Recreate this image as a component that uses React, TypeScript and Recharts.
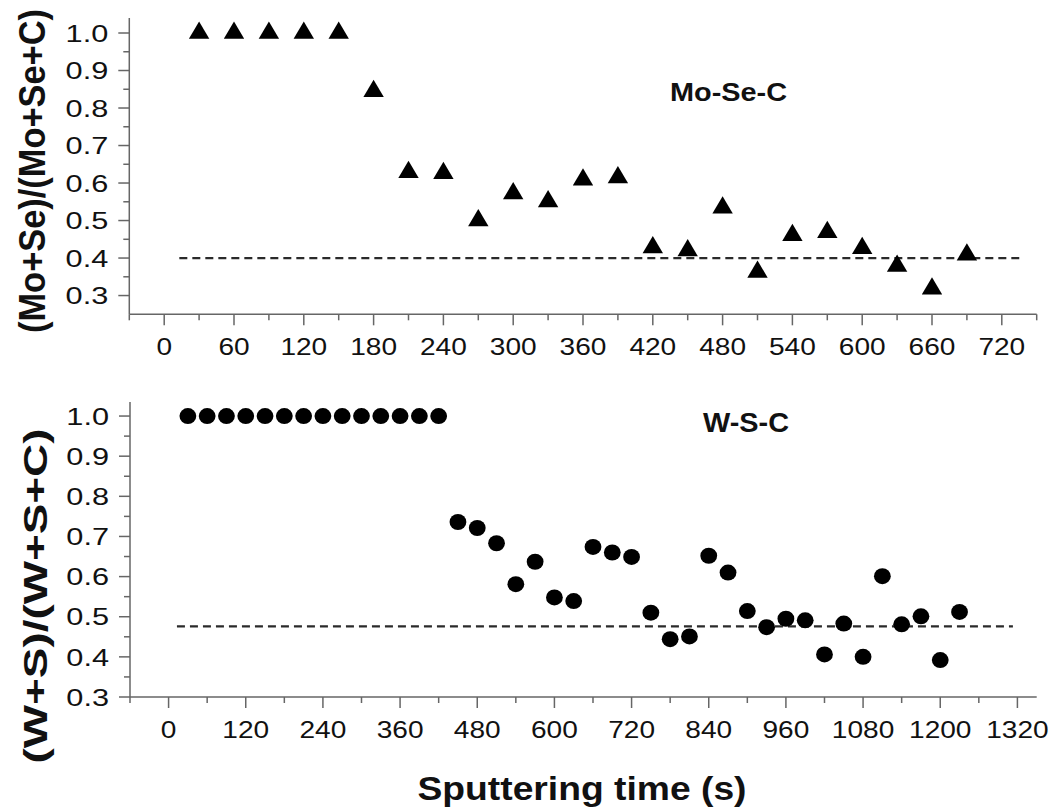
import React from 'react';
import { ScatterChart, Scatter, XAxis, YAxis, ReferenceLine } from 'recharts';

// ---- data ----
const moSeTime = [30, 60, 90, 120, 150, 180, 210, 240, 270, 300, 330, 360, 390, 420, 450, 480, 510, 540, 570, 600, 630, 660, 690];
const moSeRatio = [1.0, 1.0, 1.0, 1.0, 1.0, 0.845, 0.629, 0.626, 0.5, 0.572, 0.551, 0.609, 0.615, 0.428, 0.42, 0.534, 0.363, 0.461, 0.469, 0.426, 0.379, 0.318, 0.409];

const wsTime = [30, 60, 90, 120, 150, 180, 210, 240, 270, 300, 330, 360, 390, 420, 450, 480, 510, 540, 570, 600, 630, 660, 690, 720, 750, 780, 810, 840, 870, 900, 930, 960, 990, 1020, 1050, 1080, 1110, 1140, 1170, 1200, 1230];
const wsRatio = [1.0, 1.0, 1.0, 1.0, 1.0, 1.0, 1.0, 1.0, 1.0, 1.0, 1.0, 1.0, 1.0, 1.0, 0.736, 0.721, 0.683, 0.581, 0.637, 0.548, 0.539, 0.674, 0.66, 0.649, 0.51, 0.444, 0.451, 0.652, 0.61, 0.514, 0.474, 0.495, 0.491, 0.406, 0.483, 0.4, 0.601, 0.481, 0.501, 0.392, 0.512];

const moSeXTicks = [-30, 0, 30, 60, 90, 120, 150, 180, 210, 240, 270, 300, 330, 360, 390, 420, 450, 480, 510, 540, 570, 600, 630, 660, 690, 720, 750];
const wsXTicks = [-60, 0, 60, 120, 180, 240, 300, 360, 420, 480, 540, 600, 660, 720, 780, 840, 900, 960, 1020, 1080, 1140, 1200, 1260, 1320];
const yTicks = [0.3, 0.35, 0.4, 0.45, 0.5, 0.55, 0.6, 0.65, 0.7, 0.75, 0.8, 0.85, 0.9, 0.95, 1.0];

const moSeLevel = 0.4;
const moSeLevelRange = [13, 735];
const wsLevel = 0.476;
const wsLevelRange = [13, 1313];

const moSeData = moSeTime.map((t, i) => ({ x: t, y: moSeRatio[i] }));
const wsData = wsTime.map((t, i) => ({ x: t, y: wsRatio[i] }));

// ---- styles ----
const FONT = '"Liberation Sans", Arial, Helvetica, sans-serif';
const AXIS = '#666';
const INK = '#111';

const makeXTick = (majorStep: number) => (props: any) => {
  const { x, y, payload } = props;
  const v = payload.value as number;
  const major = v >= 0 && v % majorStep === 0;
  return (
    <g>
      <line x1={x} x2={x} y1={y} y2={y + (major ? 11 : 6)} stroke={AXIS} strokeWidth={1.5} />
      {major && (
        <text
          transform={`translate(${x},${y + 41}) scale(1.17,1)`}
          textAnchor="middle"
          fontSize={24}
          fontFamily={FONT}
          fill={INK}
        >
          {v}
        </text>
      )}
    </g>
  );
};

const YTick = (props: any) => {
  const { x, y, payload } = props;
  const v = payload.value as number;
  const major = Math.abs(v * 10 - Math.round(v * 10)) < 1e-6;
  return (
    <g>
      <line x1={x - (major ? 11 : 6)} x2={x} y1={y} y2={y} stroke={AXIS} strokeWidth={1.5} />
      {major && (
        <text
          transform={`translate(${x - 21},${y}) scale(1.28,1)`}
          textAnchor="end"
          dy="0.36em"
          fontSize={24}
          fontFamily={FONT}
          fill={INK}
        >
          {v.toFixed(1)}
        </text>
      )}
    </g>
  );
};

const Triangle = (props: any) => {
  const { cx, cy } = props;
  return (
    <polygon
      points={`${cx},${cy - 11.5} ${cx - 10.2},${cy + 5.8} ${cx + 10.2},${cy + 5.8}`}
      fill="#000"
    />
  );
};

const Dot = (props: any) => {
  const { cx, cy } = props;
  return <ellipse cx={cx} cy={cy} rx={8.4} ry={8} fill="#000" />;
};

const YW = 90;

export default function App() {
  return (
    <div style={{ position: 'absolute', left: 0, top: 0, width: 1055, height: 812, background: '#fff', overflow: 'hidden' }}>
      <div style={{ position: 'absolute', left: 0, top: 0 }}>
        <ScatterChart width={1055} height={370} margin={{ top: 18, right: 18.3, left: 129.3 - YW, bottom: 370 - 314.3 - 40 }}>
          <XAxis
            type="number"
            dataKey="x"
            domain={[-30, 750]}
            allowDataOverflow
            ticks={moSeXTicks}
            interval={0}
            tickSize={0}
            tickMargin={0}
            height={40}
            axisLine={{ stroke: AXIS, strokeWidth: 1.5 }}
            tickLine={false}
            tick={makeXTick(60)}
          />
          <YAxis
            type="number"
            dataKey="y"
            domain={[0.25, 1.04]}
            allowDataOverflow
            ticks={yTicks}
            interval={0}
            tickSize={0}
            tickMargin={0}
            width={YW}
            axisLine={{ stroke: AXIS, strokeWidth: 1.5 }}
            tickLine={false}
            tick={YTick}
          />
          <ReferenceLine
            segment={[{ x: moSeLevelRange[0], y: moSeLevel }, { x: moSeLevelRange[1], y: moSeLevel }]}
            stroke="#2a2a2a"
            strokeWidth={2.2}
            strokeDasharray="8 5"
          />
          <Scatter data={moSeData} shape={Triangle} isAnimationActive={false} />
        </ScatterChart>
      </div>
      <div style={{ position: 'absolute', left: 0, top: 380 }}>
        <ScatterChart width={1055} height={432} margin={{ top: 22, right: 18.3, left: 130 - YW, bottom: 432 - 317 - 40 }}>
          <XAxis
            type="number"
            dataKey="x"
            domain={[-60, 1350]}
            allowDataOverflow
            ticks={wsXTicks}
            interval={0}
            tickSize={0}
            tickMargin={0}
            height={40}
            axisLine={{ stroke: AXIS, strokeWidth: 1.5 }}
            tickLine={false}
            tick={makeXTick(120)}
          />
          <YAxis
            type="number"
            dataKey="y"
            domain={[0.3, 1.035]}
            allowDataOverflow
            ticks={yTicks}
            interval={0}
            tickSize={0}
            tickMargin={0}
            width={YW}
            axisLine={{ stroke: AXIS, strokeWidth: 1.5 }}
            tickLine={false}
            tick={YTick}
          />
          <ReferenceLine
            segment={[{ x: wsLevelRange[0], y: wsLevel }, { x: wsLevelRange[1], y: wsLevel }]}
            stroke="#2a2a2a"
            strokeWidth={2.2}
            strokeDasharray="8 5"
          />
          <Scatter data={wsData} shape={Dot} isAnimationActive={false} />
        </ScatterChart>
      </div>
      <svg width={1055} height={812} style={{ position: 'absolute', left: 0, top: 0, pointerEvents: 'none' }}>
        <text
          transform="translate(45,171) rotate(-90) scale(1,1.15)"
          textAnchor="middle"
          fontSize={32}
          fontWeight="bold"
          fontFamily={FONT}
          fill={INK}
          textLength={324}
          lengthAdjust="spacingAndGlyphs"
        >
          (Mo+Se)/(Mo+Se+C)
        </text>
        <text
          transform="translate(47,596) rotate(-90) scale(1,1.1)"
          textAnchor="middle"
          fontSize={30}
          fontWeight="bold"
          fontFamily={FONT}
          fill={INK}
          textLength={335}
          lengthAdjust="spacingAndGlyphs"
        >
          (W+S)/(W+S+C)
        </text>
        <text
          x={582}
          y={800}
          textAnchor="middle"
          fontSize={34}
          fontWeight="bold"
          fontFamily={FONT}
          fill={INK}
          textLength={329}
          lengthAdjust="spacingAndGlyphs"
        >
          Sputtering time (s)
        </text>
        <text
          x={670}
          y={101}
          fontSize={25}
          fontWeight="bold"
          fontFamily={FONT}
          fill={INK}
          textLength={117}
          lengthAdjust="spacingAndGlyphs"
        >
          Mo-Se-C
        </text>
        <text
          x={703}
          y={432}
          fontSize={27}
          fontWeight="bold"
          fontFamily={FONT}
          fill={INK}
          textLength={86}
          lengthAdjust="spacingAndGlyphs"
        >
          W-S-C
        </text>
      </svg>
    </div>
  );
}
